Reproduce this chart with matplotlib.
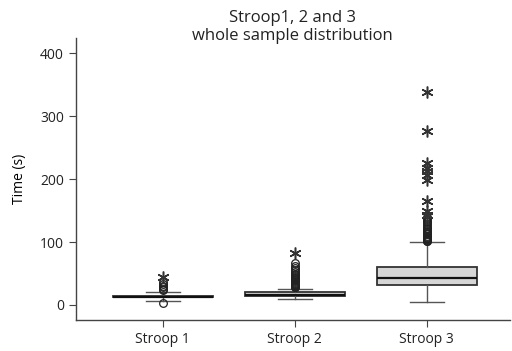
import matplotlib
matplotlib.use("Agg")
import matplotlib.pyplot as plt

plt.rcParams['font.family'] = ['Open Sans', 'DejaVu Sans']

categories = ["Stroop 1", "Stroop 2", "Stroop 3"]

# five-number summaries (seconds)
q1 = [12.0, 14.6, 32.5]
median = [13.0, 16.0, 43.0]
q3 = [14.5, 21.0, 60.6]
whisker_low = [7.0, 9.0, 4.5]
whisker_high = [21.0, 26.0, 99.7]

# outliers (circles) and extreme values (asterisks)
outliers = [
    [2.5, 24, 26, 28, 30, 33, 36],
    [28, 29, 30, 31, 32, 33, 34, 35, 36, 38, 40, 41, 43, 45, 47, 49, 52, 55, 58, 62, 66],
    [101, 102, 103, 104, 105, 106, 107, 108, 110, 112, 114, 116, 118, 120, 122,
     125, 128, 131, 134, 137, 140],
]
extremes = [
    [45],
    [82],
    [143, 149, 165, 199, 207, 212, 218, 226, 277, 338],
]

fig = plt.figure(figsize=(5.12, 3.51), dpi=100)
ax = fig.add_axes([0.148, 0.088, 0.848, 0.804])

stats = []
for i, name in enumerate(categories):
    stats.append(dict(label=name, med=median[i], q1=q1[i], q3=q3[i],
                      whislo=whisker_low[i], whishi=whisker_high[i],
                      fliers=outliers[i]))

positions = [1, 2, 3]
edge = '#333333'
ax.bxp(stats, positions=positions, widths=0.76, patch_artist=True,
       boxprops=dict(facecolor='#d6d6d6', edgecolor=edge, linewidth=1.3),
       medianprops=dict(color='#111111', linewidth=1.6),
       whiskerprops=dict(color='#555555', linewidth=1.0),
       capprops=dict(color='#555555', linewidth=1.0),
       capwidths=0.26,
       flierprops=dict(marker='o', markersize=5.5, markerfacecolor='none',
                       markeredgecolor='#222222', markeredgewidth=0.9))

for pos, vals in zip(positions, extremes):
    ax.plot([pos] * len(vals), vals, linestyle='none', marker=(6, 2, 0),
            markersize=8.5, markeredgecolor='#333333', markeredgewidth=1.1,
            color='#333333')

ax.set_xlim(0.34, 3.63)
ax.set_ylim(-24, 424)
ax.set_yticks([0, 100, 200, 300, 400])
ax.set_xticks(positions)
ax.set_xticklabels(categories)
ax.set_ylabel("Time (s)", fontsize=10, labelpad=9)

for side in ('top', 'right'):
    ax.spines[side].set_visible(False)
for side in ('left', 'bottom'):
    ax.spines[side].set_color('#444444')
    ax.spines[side].set_linewidth(1.0)
ax.tick_params(direction='out', length=5, color='#444444', labelsize=10,
               labelcolor='#222222')

fig.text(0.572, 0.972, "Stroop1, 2 and 3\nwhole sample distribution",
         ha='center', va='top', fontsize=12, color='#222222', linespacing=1.15)

fig.savefig("out.png", dpi=100)
